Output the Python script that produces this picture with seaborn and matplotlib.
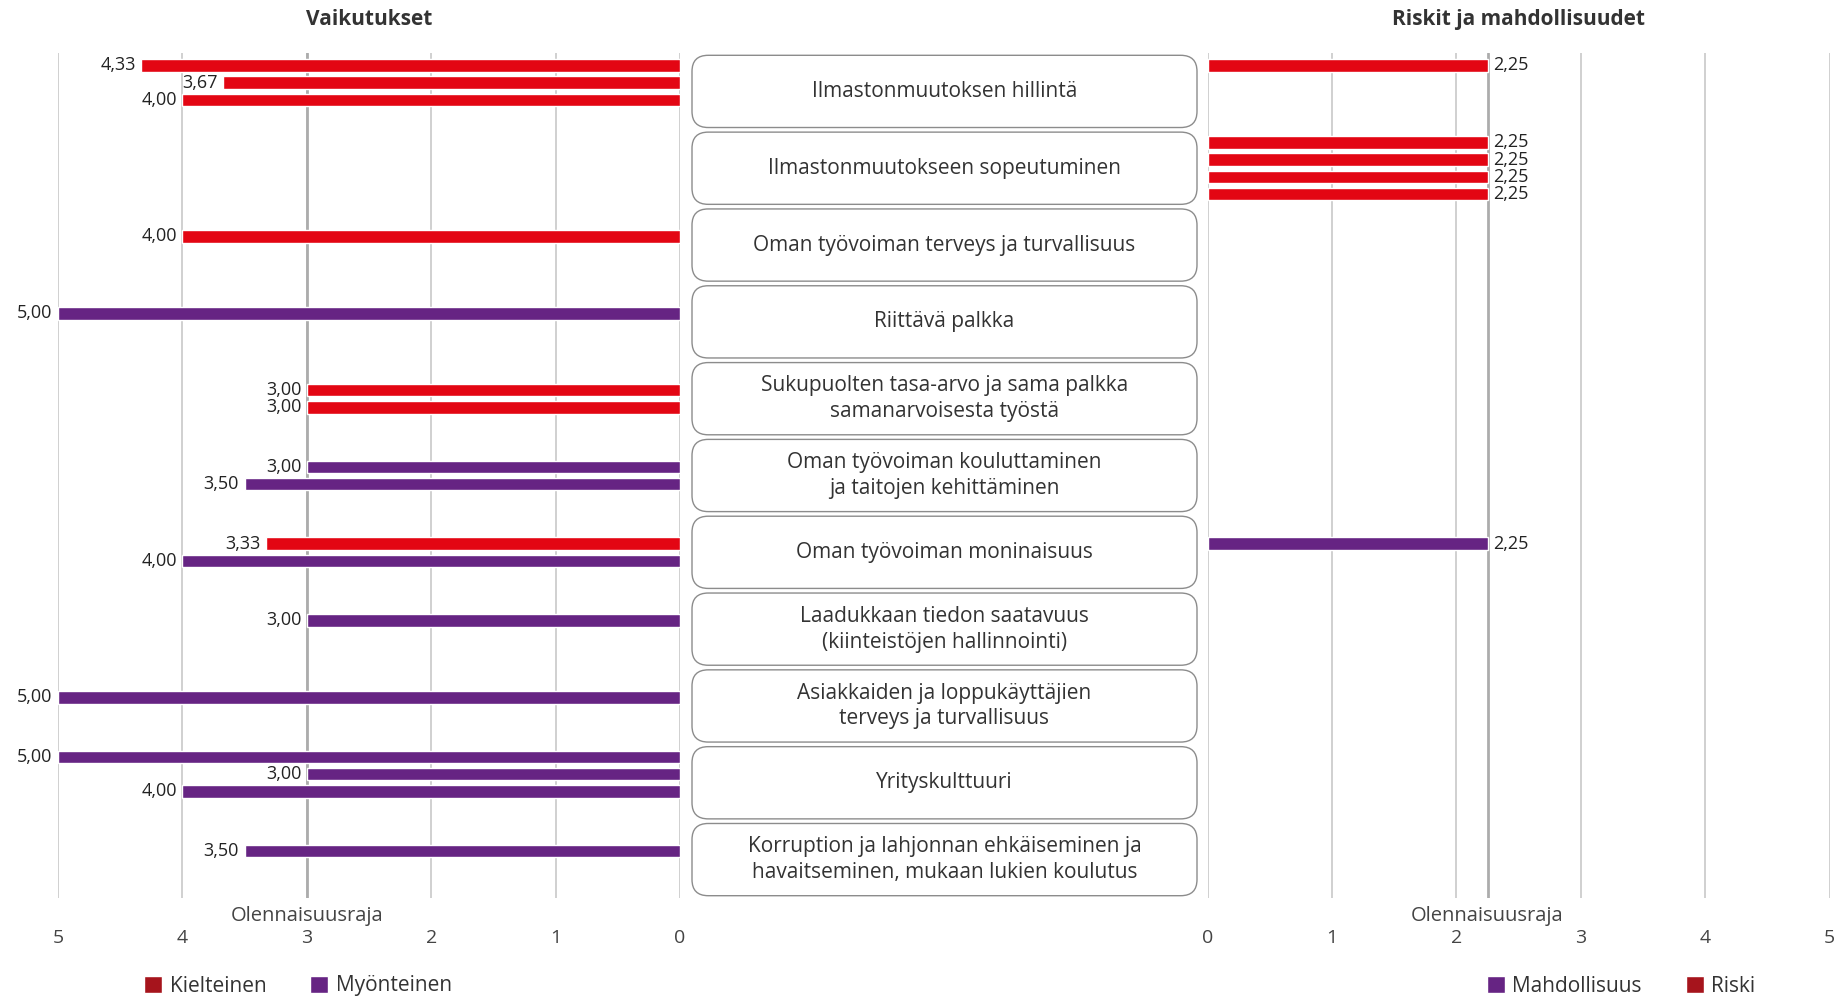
import pandas as pd
import seaborn as sns
import matplotlib.pyplot as plt
from matplotlib.patches import FancyBboxPatch, Patch

# topics shown in the middle column
topics = [
    "Ilmastonmuutoksen hillintä",
    "Ilmastonmuutokseen sopeutuminen",
    "Oman työvoiman terveys ja turvallisuus",
    "Riittävä palkka",
    "Sukupuolten tasa-arvo ja sama palkka\nsamanarvoisesta työstä",
    "Oman työvoiman kouluttaminen\nja taitojen kehittäminen",
    "Oman työvoiman moninaisuus",
    "Laadukkaan tiedon saatavuus\n(kiinteistöjen hallinnointi)",
    "Asiakkaiden ja loppukäyttäjien\nterveys ja turvallisuus",
    "Yrityskulttuuri",
    "Korruption ja lahjonnan ehkäiseminen ja\nhavaitseminen, mukaan lukien koulutus",
]
slots = ["1", "2", "3", "4"]

# Vaikutukset (left panel)
imp_topic = [0, 0, 0, 2, 3, 4, 4, 5, 5, 6, 6, 7, 8, 9, 9, 9, 10]
imp_slot = ["1", "2", "3", "2", "2", "2", "3", "2", "3", "2", "3", "2", "2", "1", "2", "3", "2"]
imp_type = ["Kielteinen", "Kielteinen", "Kielteinen", "Kielteinen", "Myönteinen",
            "Kielteinen", "Kielteinen", "Myönteinen", "Myönteinen", "Kielteinen",
            "Myönteinen", "Myönteinen", "Myönteinen", "Myönteinen", "Myönteinen",
            "Myönteinen", "Myönteinen"]
imp_value = [4.33, 3.67, 4.00, 4.00, 5.00, 3.00, 3.00, 3.00, 3.50, 3.33, 4.00,
             3.00, 5.00, 5.00, 3.00, 4.00, 3.50]
imp_threshold = 3

# Riskit ja mahdollisuudet (right panel)
risk_topic = [0, 1, 1, 1, 1, 6]
risk_slot = ["1", "1", "2", "3", "4", "2"]
risk_type = ["Riski", "Riski", "Riski", "Riski", "Riski", "Mahdollisuus"]
risk_value = [2.25, 2.25, 2.25, 2.25, 2.25, 2.25]
risk_threshold = 2.25

ticks = [0, 1, 2, 3, 4, 5]

bar_colors = {"Kielteinen": "#e30613", "Myönteinen": "#662483",
              "Riski": "#e30613", "Mahdollisuus": "#662483"}
legend_colors = {"Kielteinen": "#a6141c", "Myönteinen": "#662483",
                 "Riski": "#a6141c", "Mahdollisuus": "#662483"}

imp = pd.DataFrame({"topic": [topics[i] for i in imp_topic], "slot": imp_slot,
                    "type": imp_type, "value": imp_value})
risk = pd.DataFrame({"topic": [topics[i] for i in risk_topic], "slot": risk_slot,
                     "type": risk_type, "value": risk_value})

sns.set_theme(style="white")
plt.rcParams["font.family"] = ["Open Sans", "DejaVu Sans"]

fig = plt.figure(figsize=(18.45, 10), dpi=100)
W, H = 1845, 1000
top, bottom = 53, 898
ax_l = fig.add_axes([58 / W, 1 - bottom / H, 622 / W, (bottom - top) / H])
ax_m = fig.add_axes([692 / W, 1 - bottom / H, 505 / W, (bottom - top) / H])
ax_r = fig.add_axes([1207.6 / W, 1 - bottom / H, 622 / W, (bottom - top) / H])

fmt = lambda v: f"{v:.2f}".replace(".", ",")


def draw_panel(ax, df, xlim, threshold, title):
    for kind in df["type"].unique():
        sub = df[df["type"] == kind]
        sns.barplot(data=sub, x="value", y="topic", hue="slot", order=topics,
                    hue_order=slots, palette={s: bar_colors[kind] for s in slots},
                    dodge=True, width=0.9, gap=0.27, orient="h", errorbar=None,
                    saturation=1, legend=False, ax=ax, zorder=3)
    ax.set_xlim(*xlim)
    ax.set_xticks(ticks)
    ax.set_yticks([])
    ax.set_xlabel("")
    ax.set_ylabel("")
    sns.despine(ax=ax, left=True, bottom=True)
    ax.grid(axis="x", color="#c8c8c8", lw=1.2)
    ax.axvline(threshold, color="#acacac", lw=2, zorder=2)
    ax.tick_params(axis="x", length=0, pad=22, labelsize=14, labelcolor="#444")
    ax.text(threshold, -0.021, "Olennaisuusraja", transform=ax.get_xaxis_transform(),
            ha="center", va="center", fontsize=14.5, color="#444")
    ax.set_title(title, fontsize=15, fontweight="bold", color="#333", pad=20)
    for c in ax.containers:
        ax.bar_label(c, fmt=fmt, padding=4, fontsize=13, color="#222")


draw_panel(ax_l, imp, (5, 0), imp_threshold, "Vaikutukset")
draw_panel(ax_r, risk, (0, 5), risk_threshold, "Riskit ja mahdollisuudet")

# middle column with rounded label boxes
ax_m.set_xlim(0, 1)
ax_m.set_ylim(len(topics) - 0.5, -0.5)
ax_m.axis("off")
aspect = (505 / 1) / ((bottom - top) / len(topics))
for i, t in enumerate(topics):
    box = FancyBboxPatch((0, i - 0.47), 1, 0.94,
                         boxstyle="round,pad=0,rounding_size=0.032",
                         mutation_aspect=aspect, fc="white", ec="#8c8c8c", lw=1,
                         clip_on=False)
    ax_m.add_patch(box)
    ax_m.text(0.5, i, t, ha="center", va="center", fontsize=15, color="#333",
              linespacing=1.3)

# legends
left_keys = ["Kielteinen", "Myönteinen"]
right_keys = ["Mahdollisuus", "Riski"]
for keys, cx in [(left_keys, 298), (right_keys, 1621)]:
    handles = [Patch(facecolor=legend_colors[k], label=k) for k in keys]
    fig.legend(handles=handles, loc="center", bbox_to_anchor=(cx / W, 1 - 986 / H),
               ncol=2, frameon=False, fontsize=15, handlelength=0.87,
               handleheight=0.87, handletextpad=0.35, columnspacing=2.1,
               labelcolor="#333")

fig.savefig("out.png", dpi=100)
